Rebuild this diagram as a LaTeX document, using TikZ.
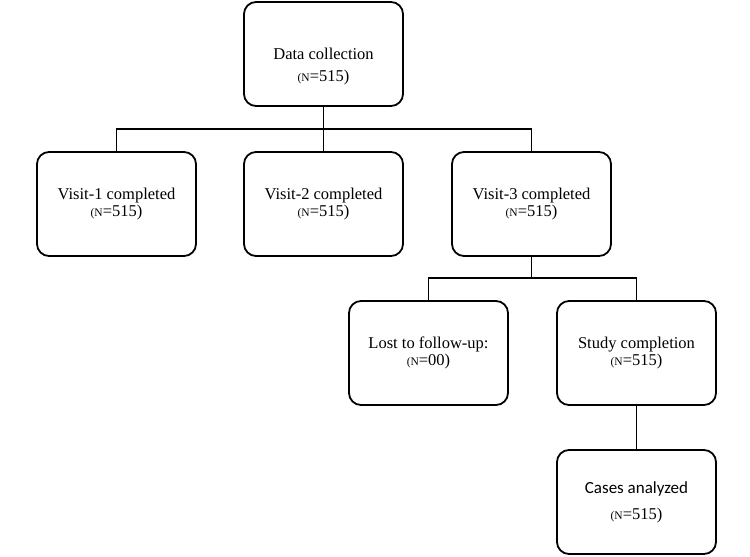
\documentclass[tikz,border=0pt]{standalone}
\usepackage{fontspec}
\setmainfont{Liberation Serif}
\newfontfamily\casesfont{Carlito}
\usepackage{tikz}
\usetikzlibrary{positioning}
\newcommand{\nlab}[1]{{\fontsize{11.5}{13}\selectfont(N}=#1)}

\begin{document}
\begin{tikzpicture}[x=1pt,y=1pt,
    fbox/.style={draw=black,line width=1.8pt,rounded corners=12pt,shape=rectangle,
                 minimum width=159pt,minimum height=104pt,inner sep=2pt,outer sep=0pt,
                 anchor=north west,align=center,font=\fontsize{16.5}{18}\selectfont},
    link/.style={line width=1.2pt,draw=black}]

\useasboundingbox (0,0) rectangle (750,-557);

% ======================= top: data collection ==========================================
\node[fbox] (dc) at (244,-2) {\rule{0pt}{36pt}Data collection\\[4pt]\nlab{515}};

% ======================= visits ========================================================
\node[fbox] (v1) at (37,-152)  {Visit-1 completed\\[-1pt]\nlab{515}};
\node[fbox] (v2) at (244,-152) {Visit-2 completed\\[-1pt]\nlab{515}};
\node[fbox] (v3) at (452,-152) {Visit-3 completed\\[-1pt]\nlab{515}};

\draw[link] (dc.south) -- (v2.north);
\draw[link] (dc.south) -- ++(0,-23) -| (v1.north);
\draw[link] (dc.south) -- ++(0,-23) -| (v3.north);

% ======================= follow-up =====================================================
\node[fbox] (lf) at (349,-301) {Lost to follow-up:\\[-1pt]\nlab{00}};
\node[fbox] (sc) at (557,-301) {Study completion\\[-1pt]\nlab{515}};

\draw[link] (v3.south) -- ++(0,-22) -| (lf.north);
\draw[link] (v3.south) -- ++(0,-22) -| (sc.north);

% ======================= analysis ======================================================
\node[fbox] (ca) at (557,-450) {{\casesfont\fontsize{17}{19}\selectfont Cases analyzed}\\[8pt]\nlab{515}};
\draw[link] (sc.south) -- (ca.north);

\end{tikzpicture}
\end{document}
